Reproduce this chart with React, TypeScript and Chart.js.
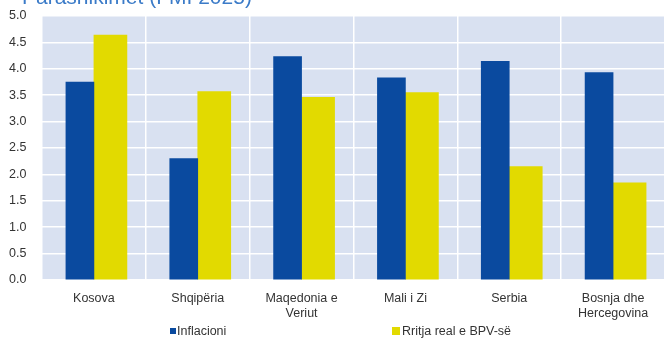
import React, { useEffect, useRef } from "react";
import { Chart, registerables } from "chart.js";

Chart.register(...registerables);

const categories: string[][] = [
  ["Kosova"],
  ["Shqipëria"],
  ["Maqedonia e", "Veriut"],
  ["Mali i Zi"],
  ["Serbia"],
  ["Bosnja dhe", "Hercegovina"],
];
const inflacioni = [3.75, 2.3, 4.23, 3.83, 4.14, 3.93];
const rritjaReale = [4.64, 3.57, 3.46, 3.55, 2.15, 1.84];
const seriesNames = ["Inflacioni", "Rritja real e BPV-së"];
const titleText = "Parashikimet (FMI 2025)";
const yMin = 0;
const yMax = 5;
const yStep = 0.5;

const BLUE = "#0a4a9f";
const YELLOW = "#e2da00";
const PLOT_BG = "#d9e1f1";
const TEXT = "#333333";
const FONT = "'Liberation Sans', Arial, sans-serif";

const plotBg = {
  id: "plotBg",
  beforeDraw(chart: any) {
    const { ctx, chartArea } = chart;
    if (!chartArea) return;
    ctx.save();
    ctx.fillStyle = PLOT_BG;
    ctx.fillRect(chartArea.left, chartArea.top, chartArea.right - chartArea.left, chartArea.bottom - chartArea.top);
    ctx.restore();
  },
};

export default function App() {
  const ref = useRef<HTMLCanvasElement | null>(null);

  useEffect(() => {
    if (!ref.current) return;
    const chart = new Chart(ref.current, {
      type: "bar",
      data: {
        labels: categories,
        datasets: [
          { label: seriesNames[0], data: inflacioni, backgroundColor: BLUE, barThickness: 28 },
          { label: seriesNames[1], data: rritjaReale, backgroundColor: YELLOW, barThickness: 33 },
        ],
      },
      options: {
        responsive: false,
        animation: false,
        layout: { padding: { top: 16, right: 3, left: 9, bottom: 0 } },
        plugins: {
          legend: { display: false },
          tooltip: { enabled: false },
          title: { display: false },
        },
        scales: {
          x: {
            grid: { color: "#ffffff", lineWidth: 1.5, drawTicks: false, offset: true },
            border: { display: false },
            ticks: {
              color: TEXT,
              font: { family: FONT, size: 12.5 },
              padding: 11,
              maxRotation: 0,
              autoSkip: false,
            },
            afterFit(scale: any) {
              scale.height = 58;
            },
          },
          y: {
            min: yMin,
            max: yMax,
            grid: { color: "#ffffff", lineWidth: 1.5, drawTicks: false },
            border: { display: false },
            ticks: {
              stepSize: yStep,
              color: TEXT,
              font: { family: FONT, size: 12.5 },
              padding: 0,
              crossAlign: "far",
              callback: (v: any) => Number(v).toFixed(1),
            },
            afterFit(scale: any) {
              scale.width = 33;
            },
          },
        },
      },
      plugins: [plotBg],
    });
    return () => chart.destroy();
  }, []);

  return (
    <div
      style={{
        position: "absolute",
        left: 0,
        top: 0,
        width: 668,
        height: 338,
        background: "#ffffff",
        overflow: "hidden",
        fontFamily: FONT,
      }}
    >
      <canvas ref={ref} width={668} height={338} style={{ display: "block", width: 668, height: 338 }} />
      <div
        style={{
          position: "absolute",
          left: 22,
          top: -15,
          fontSize: 21,
          color: "#3b7bc8",
          whiteSpace: "nowrap",
          lineHeight: "24px",
        }}
      >
        {titleText}
      </div>
      <div style={{ position: "absolute", left: 170, top: 328, width: 6, height: 6, background: BLUE }} />
      <div
        style={{ position: "absolute", left: 177, top: 323, fontSize: 12.5, lineHeight: "16px", color: TEXT, whiteSpace: "nowrap" }}
      >
        {seriesNames[0]}
      </div>
      <div style={{ position: "absolute", left: 392, top: 327, width: 8, height: 8, background: YELLOW }} />
      <div
        style={{ position: "absolute", left: 402, top: 323, fontSize: 12.5, lineHeight: "16px", color: TEXT, whiteSpace: "nowrap" }}
      >
        {seriesNames[1]}
      </div>
    </div>
  );
}
